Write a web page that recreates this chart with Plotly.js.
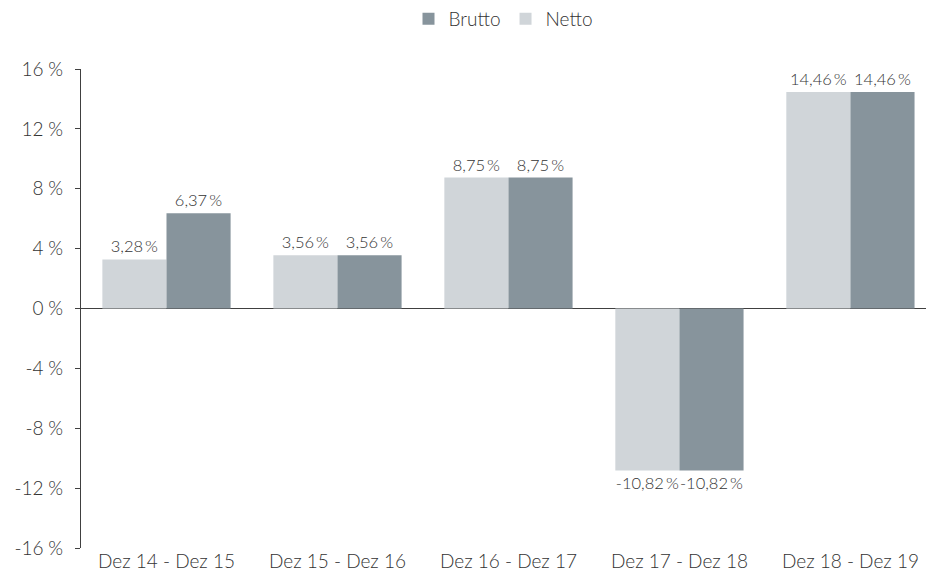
<!DOCTYPE html>
<html><head><meta charset="utf-8">
<script src="https://cdn.plot.ly/plotly-3.0.1.min.js"></script>
<style>html,body{margin:0;padding:0;overflow:hidden;background:#fff}</style>
</head><body>
<div id="chart" style="width:926px;height:583px"></div>
<script>
const categories = ["Dez 14 - Dez 15","Dez 15 - Dez 16","Dez 16 - Dez 17","Dez 17 - Dez 18","Dez 18 - Dez 19"];
const netto = [3.28, 3.56, 8.75, -10.82, 14.46];
const brutto = [6.37, 3.56, 8.75, -10.82, 14.46];
const yTicks = [-16,-12,-8,-4,0,4,8,12,16];

const fmt = v => v.toFixed(2).replace('.', ',') + '\u2009%';
const font = {family: 'Lato, "Open Sans", sans-serif', size: 19, color: '#333333', weight: 300};
const labelFont = Object.assign({}, font, {size: 16.5});

const data = [
  {type:'bar', name:'Netto', x:categories, y:netto, marker:{color:'#d0d5d9'},
   text: netto.map(fmt), textposition:'outside', constraintext:'none', textfont:labelFont, cliponaxis:false, hoverinfo:'none'},
  {type:'bar', name:'Brutto', x:categories, y:brutto, marker:{color:'#87949c'},
   text: brutto.map(fmt), textposition:'outside', constraintext:'none', textfont:labelFont, cliponaxis:false, hoverinfo:'none'}
];
const layout = {
  width:926, height:583,
  margin:{l:81, r:0, t:69, b:35},
  paper_bgcolor:'#fff', plot_bgcolor:'#fff',
  font: font,
  barmode:'group', bargap:0.25, bargroupgap:0,
  showlegend:true,
  legend:{orientation:'h', x:0.5, xanchor:'center', y:1, yref:'container', yanchor:'top',
          traceorder:'reversed', font:font, itemwidth:30},
  xaxis:{type:'category', range:[-0.5, 4.442], showline:false, ticks:'', showgrid:false, zeroline:false,
         tickfont:font, automargin:false},
  yaxis:{range:[-16,16], tickvals:yTicks, ticktext:yTicks.map(v=>v+'\u202F%'), showgrid:false,
         zeroline:true, zerolinecolor:'#404040', zerolinewidth:1,
         showline:true, linecolor:'#404040', linewidth:1, ticks:'outside', ticklen:5, tickcolor:'#404040',
         ticklabelstandoff:8, tickfont:font, automargin:false}
};
Plotly.newPlot('chart', data, layout, {displayModeBar:false, staticPlot:true});
</script>
</body></html>
